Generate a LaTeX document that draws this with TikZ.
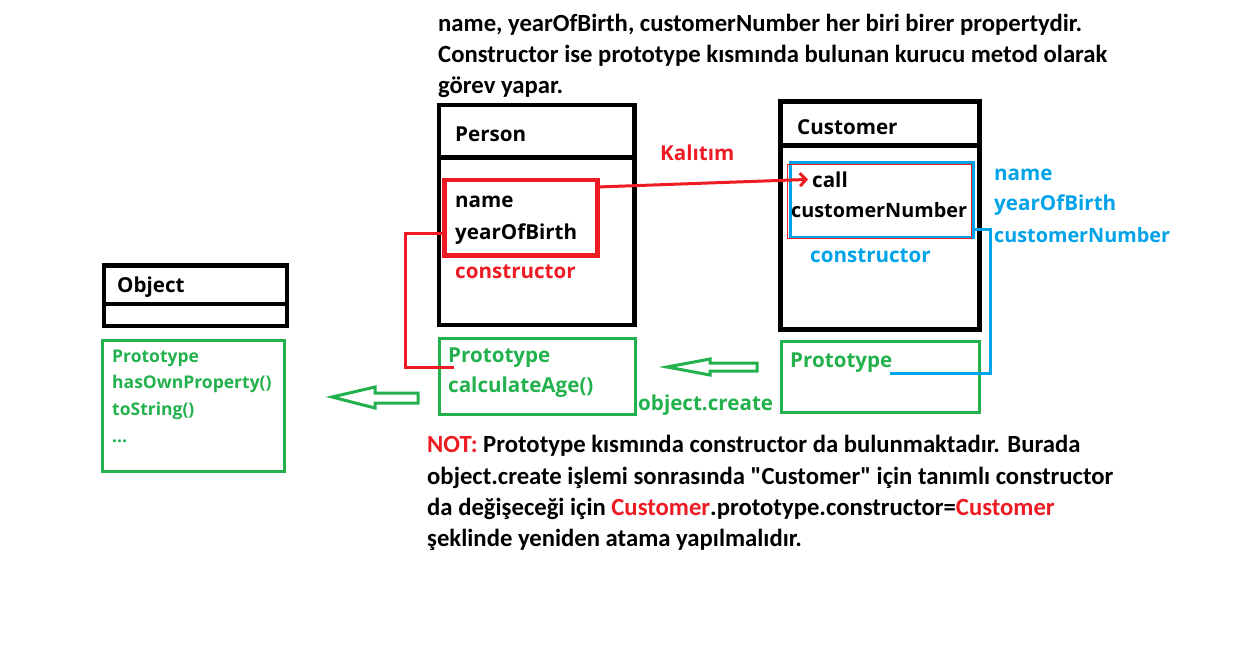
\documentclass[tikz,border=0pt]{standalone}
\usepackage{fontspec}
\setmainfont{Open Sans}
\newfontfamily\notefont{Carlito}
\usetikzlibrary{arrows.meta}
\definecolor{pred}{RGB}{237,28,36}
\definecolor{pgreen}{RGB}{34,177,76}
\definecolor{pblue}{RGB}{0,162,232}

\begin{document}
\begin{tikzpicture}[x=1pt,y=-1pt,
  box/.style={draw,line width=4.5pt,anchor=north west,inner sep=0pt,outer sep=0pt},
  gbox/.style={draw=pgreen,line width=3pt,anchor=north west,inner sep=0pt,outer sep=0pt},
  lbl/.style={anchor=base west,inner sep=0pt,font=\fontsize{20.6}{24}\selectfont\bfseries},
  narrow/.style={lbl,font=\fontsize{19.8}{24}\selectfont\bfseries},
  small/.style={lbl,pgreen,font=\fontsize{17.5}{20}\selectfont\bfseries},
  note/.style={anchor=base west,inner sep=0pt,font=\notefont\fontsize{24.7}{31}\selectfont\bfseries}]
  \useasboundingbox (0,0) rectangle (1244,656);

  \node[note] (t1) at (438,31) {name, yearOfBirth, customerNumber her biri birer propertydir.};
  \node[note] (t2) at (438,62) {Constructor ise prototype kısmında bulunan kurucu metod olarak};
  \node[note] (t3) at (438,93) {görev yapar.};

  \node[box,minimum width=195.5pt,minimum height=220pt] (person) at (439,105) {};
  \draw[line width=4.5pt] ([yshift=-52.5pt]person.north west) -- ([yshift=-52.5pt]person.north east);
  \node[lbl] (pname) at (455,141) {Person};
  \node[lbl] (name) at (455,207) {name};
  \node[lbl] (yob) at (455,239) {yearOfBirth};
  \node[lbl,pred] (pcons) at (455,278) {constructor};
  \node[box,draw=pred,minimum width=153pt,minimum height=75.5pt] (redbox) at (444.5,180) {};
  \node[lbl,pred] (kal) at (660,160) {Kalıtım};

  \node[gbox,minimum width=196pt,minimum height=76pt] (pproto) at (439,338.5) {};
  \node[lbl,pgreen] (pp1) at (448,362) {Prototype};
  \node[lbl,pgreen] (pp2) at (448,392) {calculateAge()};
  \node[lbl,pgreen] (ocreate) at (638,410) {object.create};
  \coordinate (redend) at (454,367);

  \node[box,minimum width=199pt,minimum height=228pt] (customer) at (780.5,101.5) {};
  \draw[line width=4.5pt] ([yshift=-44pt]customer.north west) -- ([yshift=-44pt]customer.north east);
  \node[lbl] (cname) at (797,134) {Customer};
  \node[gbox,draw=pblue,minimum width=183.5pt,minimum height=75pt] (bluebox) at (790,162.5) {};
  \node[gbox,draw=pred,line width=1pt,minimum width=183.5pt,minimum height=73.5pt] (callbox) at (787.5,164.5) {};
  \node[lbl] (call) at (812,187) {call};
  \node[narrow] (cnum) at (791,217) {customerNumber};
  \node[lbl,pblue] (ccons) at (810,262) {constructor};
  \node[lbl,pblue] (bname) at (994,180) {name};
  \node[lbl,pblue] (byob) at (994,210) {yearOfBirth};
  \node[narrow,pblue] (bnum) at (994,242) {customerNumber};

  \node[gbox,minimum width=198pt,minimum height=71pt] (cproto) at (781,341.5) {};
  \node[lbl,pgreen] (cp1) at (790,367) {Prototype};
  \coordinate (blueend) at (890,373);

  \node[box,minimum width=183pt,minimum height=60.5pt] (object) at (104,265.5) {};
  \draw[line width=4.5pt] ([yshift=-38.5pt]object.north west) -- ([yshift=-38.5pt]object.north east);
  \node[lbl] (oname) at (117,292) {Object};
  \node[gbox,minimum width=182pt,minimum height=131pt] (oproto) at (102.5,340) {};
  \node[small] (op1) at (112,362) {Prototype};
  \node[small] (op2) at (112,388) {hasOwnProperty()};
  \node[small] (op3) at (112,415) {toString()};
  \node[small] (op4) at (112,442) {...};

  \draw[pred,line width=3pt,-{Straight Barb[length=6pt,width=13pt]},shorten >=4pt]
  ([yshift=-7pt]redbox.north east) -- (call.west);
  \draw[pred,line width=3pt] (redbox.west |- yob.west) -- ++(-39.5,0) |- (redend);
  \draw[pblue,line width=3pt] ([yshift=-29pt]bluebox.east) -- ++(17,0) |- (blueend);

  \draw[pgreen,line width=3pt] (667,367) -- (710,359) -- (710,363) -- (757,363) --
  (757,371) -- (710,371) -- (710,375) -- cycle;
  \draw[pgreen,line width=3pt] (332,397) -- (375,387) -- (375,393) -- (418,393) --
  (418,403) -- (375,403) -- (375,408) -- cycle;

  \node[note] (n1) at (427,452) {\textcolor{pred}{NOT:} Prototype kısmında constructor da bulunmaktadır. Burada};
  \node[note] (n2) at (427,484) {object.create işlemi sonrasında "Customer" için tanımlı constructor};
  \node[note] (n3) at (427,515) {da değişeceği için \textcolor{pred}{Customer}.prototype.constructor=\textcolor{pred}{Customer}};
  \node[note] (n4) at (427,546) {şeklinde yeniden atama yapılmalıdır.};
\end{tikzpicture}
\end{document}
